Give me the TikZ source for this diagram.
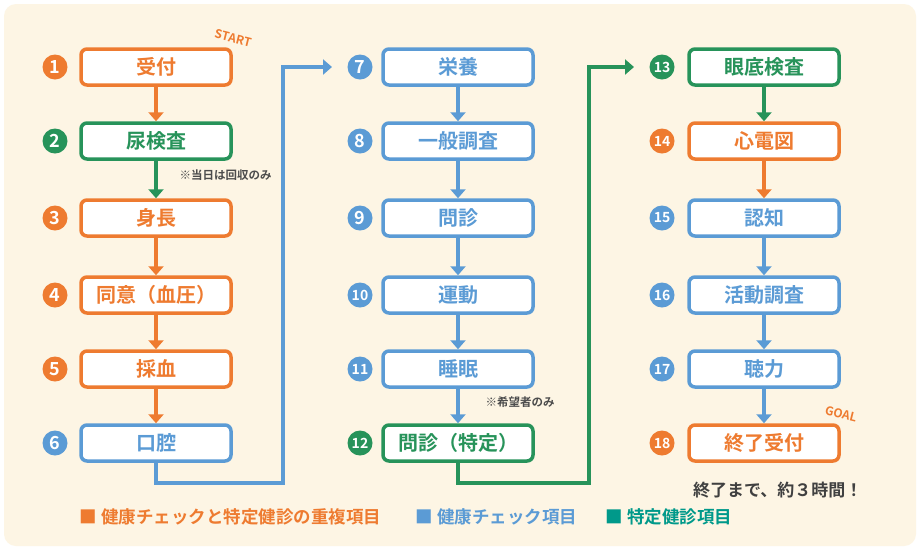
\documentclass[tikz,border=0pt]{standalone}
\usepackage{fontspec}
\setmainfont{Noto Sans CJK JP}[BoldFont={* Bold}]
\usetikzlibrary{arrows.meta}
\definecolor{cO}{HTML}{EE7B30}
\definecolor{cG}{HTML}{27935A}
\definecolor{cB}{HTML}{5B9BD5}
\definecolor{cT}{HTML}{00998A}
\definecolor{bg}{HTML}{FDF5E4}
\begin{document}
\begin{tikzpicture}[x=1pt,y=-1pt,
 box/.style={draw=#1,line width=3.5pt,fill=white,rounded corners=6pt,minimum width=150pt,minimum height=36pt,text=#1,font=\bfseries\fontsize{20}{20}\selectfont},
 num/.style={circle,fill=#1,text=white,inner sep=0pt,minimum size=25pt,font=\bfseries\fontsize{18}{18}\selectfont},
 arr/.style={draw=#1,line width=3.5pt,-{Triangle[length=9pt,width=15pt]}},
 note/.style={font=\bfseries\fontsize{11.5}{11.5}\selectfont,text=black!70}]
\useasboundingbox (0,0) rectangle (920,550);
\fill[white] (0,0) rectangle (920,550);
\fill[bg,rounded corners=12pt] (4,4) rectangle (916,546);
\node[box=cO] (b1) at (156,67) {受付};
\node[box=cG] (b2) at (156,141) {尿検査};
\node[box=cO] (b3) at (156,218) {身長};
\node[box=cO] (b4) at (156,295) {同意（血圧）};
\node[box=cO] (b5) at (156,369) {採血};
\node[box=cB] (b6) at (156,443) {口腔};
\node[box=cB] (b7) at (458,67) {栄養};
\node[box=cB] (b8) at (458,141) {一般調査};
\node[box=cB] (b9) at (458,218) {問診};
\node[box=cB] (b10) at (458,295) {運動};
\node[box=cB] (b11) at (458,369) {睡眠};
\node[box=cG] (b12) at (458,443) {問診（特定）};
\node[box=cG] (b13) at (764,67) {眼底検査};
\node[box=cO] (b14) at (764,141) {心電図};
\node[box=cB] (b15) at (764,218) {認知};
\node[box=cB] (b16) at (764,295) {活動調査};
\node[box=cB] (b17) at (764,369) {聴力};
\node[box=cO] (b18) at (764,443) {終了受付};
\foreach \i/\y/\c in {1/67/cO,2/141/cG,3/218/cO,4/295/cO,5/369/cO,6/443/cB}
  \node[num=\c] (n\i) at (55,\y) {\i};
\foreach \i/\y/\c in {7/67/cB,8/141/cB,9/218/cB}
  \node[num=\c] (n\i) at (360,\y) {\i};
\foreach \i/\y/\c in {10/295/cB,11/369/cB,12/443/cG}
  \node[num=\c,font=\bfseries\fontsize{14}{14}\selectfont] (n\i) at (360,\y) {\i};
\foreach \i/\y/\c in {13/67/cG,14/141/cO,15/218/cB,16/295/cB,17/369/cB,18/443/cO}
  \node[num=\c,font=\bfseries\fontsize{14}{14}\selectfont] (n\i) at (662,\y) {\i};
\foreach \a/\b/\c in {b1/b2/cO,b2/b3/cG,b3/b4/cO,b4/b5/cO,b5/b6/cO,b7/b8/cB,b8/b9/cB,b9/b10/cB,b10/b11/cB,b11/b12/cB,b13/b14/cG,b14/b15/cO,b15/b16/cB,b16/b17/cB,b17/b18/cB}
  \draw[arr=\c] (\a.south) -- (\b.north);
\coordinate (e7) at (332,67);
\coordinate (e13) at (634,67);
\draw[arr=cB] (b6.south) |- (283,483) -- (283,67) -- (e7);
\draw[arr=cG] (b12.south) |- (589,483) -- (589,67) -- (e13);
\node[note,anchor=west] (t1) at (176,175) {※当日は回収のみ};
\node[note,anchor=west] (t2) at (482,402) {※希望者のみ};
\node[font=\bfseries\fontsize{12}{12}\selectfont,text=cO,rotate=-14,inner sep=0pt] (st) at (233,38) {START};
\node[font=\bfseries\fontsize{12}{12}\selectfont,text=cO,rotate=-14,inner sep=0pt] (gl) at (841,414) {GOAL};
\node[font=\bfseries\fontsize{17}{17}\selectfont,text=black!75,anchor=east] (t3) at (866,490) {終了まで、約３時間！};
\node[font=\bfseries\fontsize{17.5}{17.5}\selectfont,anchor=west,text=cO] (l1) at (76,517) {■ 健康チェックと特定健診の重複項目};
\node[font=\bfseries\fontsize{17.5}{17.5}\selectfont,anchor=west,text=cB] (l2) at (412,517) {■ 健康チェック項目};
\node[font=\bfseries\fontsize{17.5}{17.5}\selectfont,anchor=west,text=cT] (l3) at (602,517) {■ 特定健診項目};
\end{tikzpicture}
\end{document}
